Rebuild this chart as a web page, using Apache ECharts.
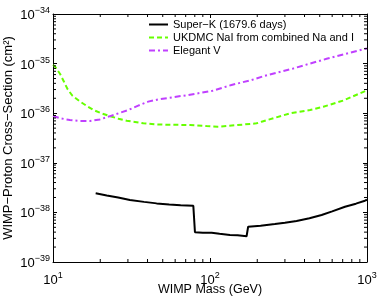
<!DOCTYPE html>
<html>
<head>
<meta charset="utf-8">
<script src="https://cdn.jsdelivr.net/npm/echarts@6/dist/echarts.min.js"></script>
<style>html,body{margin:0;padding:0;background:#fff}#c{width:381px;height:297px}</style>
</head>
<body>
<div id="c"></div>
<script>
// ---- data ----
const superKMass  = [18.7, 22, 26, 30.9, 38, 45.7, 55, 65, 78.3, 80.2, 80.2, 90, 102.5, 115, 134, 150, 171, 175, 175, 210, 259, 300, 356, 430, 514, 600, 724, 850, 970, 1000];
const superKSigma = [2.43e-38, 2.2e-38, 2.0e-38, 1.78e-38, 1.63e-38, 1.52e-38, 1.45e-38, 1.40e-38, 1.36e-38, 1.35e-38, 3.97e-39, 3.9e-39, 3.9e-39, 3.7e-39, 3.5e-39, 3.45e-39, 3.3e-39, 3.3e-39, 5.15e-39, 5.4e-39, 5.83e-39, 6.2e-39, 6.71e-39, 7.6e-39, 8.87e-39, 1.05e-38, 1.30e-38, 1.5e-38, 1.72e-38, 1.8e-38];

const ukdmcMass  = [10, 10.3, 11.1, 11.75, 12.4, 13.3, 14.7, 16.4, 18.1, 20.4, 22.9, 26.1, 29.5, 33.3, 37.6, 44.7, 55, 74.7, 95, 112, 144, 198, 213, 324, 434, 527, 706, 1000];
const ukdmcSigma = [9.4e-36, 8.7e-36, 6.17e-36, 4.3e-36, 3.03e-36, 2.25e-36, 1.76e-36, 1.40e-36, 1.16e-36, 9.9e-37, 8.8e-37, 7.75e-37, 7.06e-37, 6.65e-37, 6.25e-37, 5.97e-37, 5.85e-37, 5.78e-37, 5.5e-37, 5.35e-37, 5.7e-37, 6.25e-37, 6.74e-37, 9.95e-37, 1.16e-36, 1.35e-36, 1.8e-36, 2.9e-36];

const elegantMass  = [10, 11.1, 12.8, 14.9, 17.2, 19.9, 22.9, 26.1, 30.2, 34.9, 40.4, 46.9, 72.8, 102.5, 137, 184, 224, 340, 553, 1000];
const elegantSigma = [8.8e-37, 7.9e-37, 7.3e-37, 6.96e-37, 6.96e-37, 7.5e-37, 8.65e-37, 9.93e-37, 1.16e-36, 1.42e-36, 1.71e-36, 1.9e-36, 2.33e-36, 2.8e-36, 3.7e-36, 4.67e-36, 5.7e-36, 8.0e-36, 1.25e-35, 2.03e-35];

const seriesNames = ['Super\u2212K (1679.6 days)', 'UKDMC NaI from combined Na and I', 'Elegant V'];
// axis ranges as decade exponents (log10 scale)
const xExpMin = 1, xExpMax = 3;
const yExpMin = -39, yExpMax = -34;
const minorFactors = [2, 3, 4, 5, 6, 7, 8, 9];
const xDecadeExps = [1, 2];
const yDecadeExps = [-39, -38, -37, -36, -35];

// ---- build (log10 transform, drawn on value axes) ----
const L = Math.log10;
const zipLog = (a, b) => a.map((v, i) => [L(v), L(b[i])]);
const xMinor = [];
xDecadeExps.forEach(e => minorFactors.forEach(f => xMinor.push([e + L(f), yExpMin])));
const yMinor = [];
yDecadeExps.forEach(e => minorFactors.forEach(f => yMinor.push([xExpMin, e + L(f)])));

const FONT = 'Liberation Sans';
const expLabel = v => {
  const e = Math.round(v);
  return '{b|10}{s|' + String(e).replace('-', '\u2212') + '}';
};
const rich = {
  b: { fontSize: 13, fontFamily: FONT, color: '#000', verticalAlign: 'bottom' },
  s: { fontSize: 9, fontFamily: FONT, color: '#000', verticalAlign: 'bottom', padding: [0, 0, 7, 0] }
};
const axisCommon = {
  type: 'value', interval: 1,
  axisLine: { show: true, onZero: false, lineStyle: { color: '#000', width: 1 } },
  axisTick: { show: true, inside: true, length: 4, lineStyle: { color: '#000' } },
  splitLine: { show: false },
  nameMoveOverlap: false
};
const T = 3;
const chart = echarts.init(document.getElementById('c'), null, { renderer: 'canvas' });
chart.setOption({
  animation: false,
  backgroundColor: '#fff',
  grid: { left: 53, right: 14, top: 14, bottom: 35, containLabel: false, outerBoundsMode: 'none' },
  legend: {
    data: seriesNames, orient: 'vertical', left: 143, top: 14,
    itemWidth: 19, itemHeight: 10, itemGap: 2,
    itemStyle: { opacity: 0 },
    textStyle: { fontSize: 11, fontFamily: FONT, color: '#000' }
  },
  xAxis: [
    Object.assign({}, axisCommon, {
      min: xExpMin, max: xExpMax, position: 'bottom',
      name: 'WIMP Mass (GeV)', nameLocation: 'middle', nameGap: 21,
      nameTextStyle: { fontSize: 12.5, fontFamily: FONT, color: '#000' },
      axisLabel: { margin: 9, formatter: expLabel, rich: rich, showMinLabel: true, showMaxLabel: true, hideOverlap: false }
    }),
    Object.assign({}, axisCommon, {
      min: xExpMin, max: xExpMax, position: 'top', axisLabel: { show: false }
    })
  ],
  yAxis: [
    Object.assign({}, axisCommon, {
      min: yExpMin, max: yExpMax, position: 'left',
      name: 'WIMP\u2212Proton Cross\u2212Section (cm\u00b2)', nameLocation: 'middle', nameGap: 38, nameRotate: 90,
      nameTextStyle: { fontSize: 13, fontFamily: FONT, color: '#000' },
      axisLabel: { margin: 3, formatter: expLabel, rich: rich, showMinLabel: true, showMaxLabel: true, hideOverlap: false }
    }),
    Object.assign({}, axisCommon, {
      min: yExpMin, max: yExpMax, position: 'right', axisLabel: { show: false }
    })
  ],
  series: [
    { name: seriesNames[0], type: 'line', data: zipLog(superKMass, superKSigma), symbol: 'none',
      lineStyle: { color: '#000', width: 2 }, itemStyle: { color: '#000' } },
    { name: seriesNames[1], type: 'line', data: zipLog(ukdmcMass, ukdmcSigma), symbol: 'none',
      lineStyle: { color: '#66ff00', width: 2, type: [5, 3] }, itemStyle: { color: '#66ff00' } },
    { name: seriesNames[2], type: 'line', data: zipLog(elegantMass, elegantSigma), symbol: 'none',
      lineStyle: { color: '#c040ff', width: 2, type: [6, 3, 2, 3] }, itemStyle: { color: '#c040ff' } },
    { type: 'custom', data: xMinor, silent: true, z: 5,
      renderItem: (params, api) => {
        const x = api.value(0);
        const b = api.coord([x, yExpMin]), t = api.coord([x, yExpMax]);
        const st = { stroke: '#000', lineWidth: 1 };
        return { type: 'group', children: [
          { type: 'line', shape: { x1: b[0], y1: b[1], x2: b[0], y2: b[1] - T }, style: st },
          { type: 'line', shape: { x1: t[0], y1: t[1], x2: t[0], y2: t[1] + T }, style: st }
        ] };
      } },
    { type: 'custom', data: yMinor, silent: true, z: 5,
      renderItem: (params, api) => {
        const y = api.value(1);
        const l = api.coord([xExpMin, y]), r = api.coord([xExpMax, y]);
        const st = { stroke: '#000', lineWidth: 1 };
        return { type: 'group', children: [
          { type: 'line', shape: { x1: l[0], y1: l[1], x2: l[0] + T, y2: l[1] }, style: st },
          { type: 'line', shape: { x1: r[0], y1: r[1], x2: r[0] - T, y2: r[1] }, style: st }
        ] };
      } }
  ]
});
</script>
</body>
</html>
